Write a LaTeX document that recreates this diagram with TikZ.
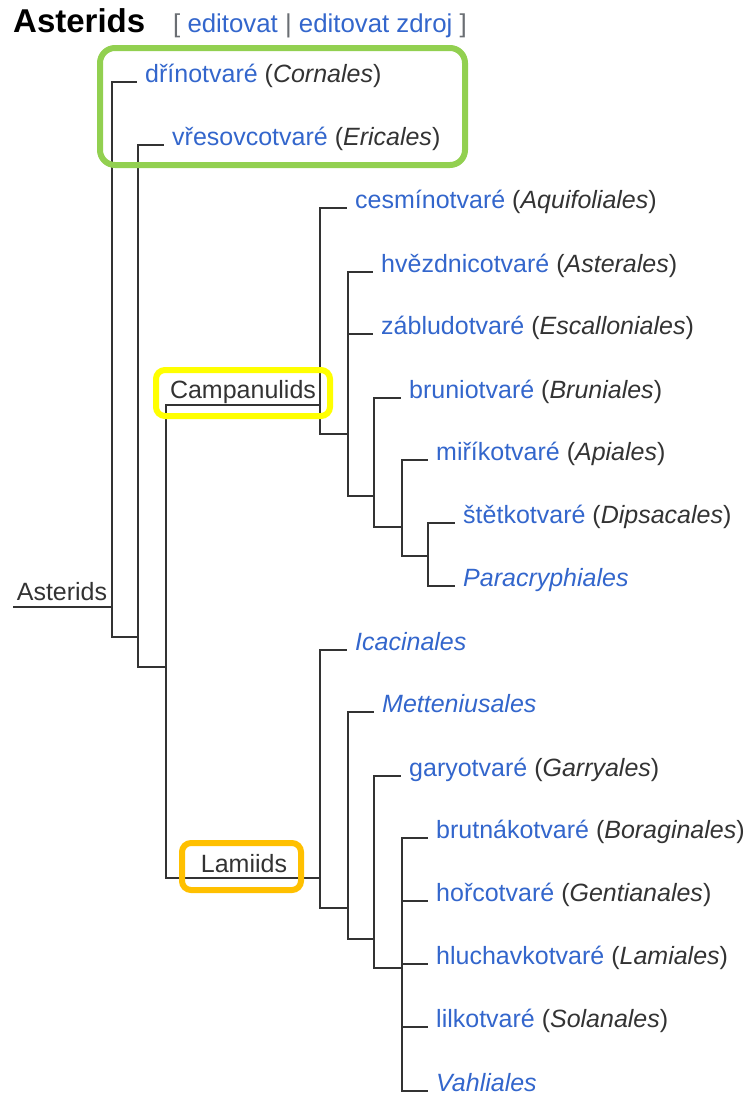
\documentclass[tikz,border=0pt]{standalone}
\usepackage{fontspec}
\setmainfont{Liberation Sans}
\usepackage{xcolor}
\definecolor{link-blue}{HTML}{3366CC}
\definecolor{text-gray}{HTML}{333333}
\definecolor{bracket-gray}{HTML}{6A6E73}
\definecolor{box-green}{HTML}{92D050}
\definecolor{box-yellow}{HTML}{FFFF00}
\definecolor{box-orange}{HTML}{FFC000}
\newcommand{\taxon}[2]{\textcolor{link-blue}{#1} \textcolor{text-gray}{(\textit{#2})}}
\newcommand{\taxonit}[1]{\textcolor{link-blue}{\textit{#1}}}
\tikzset{
    branch/.style = {draw=text-gray, line width=1.8pt},
    leaf/.style = {anchor=base west, inner sep=0pt, font=\fontsize{25}{30}\selectfont},
    clade-label/.style = {anchor=base, inner sep=0pt, text=text-gray, font=\fontsize{25}{30}\selectfont},
    page-title/.style = {anchor=base west, inner sep=0pt, text=black, font=\bfseries\fontsize{33}{40}\selectfont},
    edit-links/.style = {anchor=base west, inner sep=0pt, text=bracket-gray, font=\fontsize{25.8}{30}\selectfont},
    highlight-box/.style = {line width=6pt, rounded corners=#1},
}

\begin{document}
\begin{tikzpicture}[x=1pt, y=-1pt]
\useasboundingbox (0,0) rectangle (753,1103);
\node[page-title] (title) at (13,32) {Asterids};
\node[edit-links] (links) at (173,32) {[ \textcolor{link-blue}{editovat} | \textcolor{link-blue}{editovat zdroj} ]};

\coordinate (root) at (13,607);
\coordinate (fork-asterids) at (112,607);
\coordinate (fork-core) at (138,637);
\coordinate (fork-euasterids) at (166,667);
\coordinate (fork-campanulids) at (320,405);
\coordinate (fork-c1) at (348,434);
\coordinate (fork-c2) at (374,496);
\coordinate (fork-c3) at (402,527);
\coordinate (fork-c4) at (428,556);
\coordinate (fork-lamiids) at (320,878);
\coordinate (fork-l1) at (348,908);
\coordinate (fork-l2) at (374,939);
\coordinate (fork-l3) at (402,968);

\node[leaf] (cornales) at (145,82) {\taxon{dřínotvaré}{Cornales}};
\node[leaf] (ericales) at (172,145) {\taxon{vřesovcotvaré}{Ericales}};
\node[leaf] (aquifoliales) at (355,208) {\taxon{cesmínotvaré}{Aquifoliales}};
\node[leaf] (asterales) at (381,272) {\taxon{hvězdnicotvaré}{Asterales}};
\node[leaf] (escalloniales) at (381,334) {\taxon{zábludotvaré}{Escalloniales}};
\node[leaf] (bruniales) at (409,398) {\taxon{bruniotvaré}{Bruniales}};
\node[leaf] (apiales) at (436,460) {\taxon{miříkotvaré}{Apiales}};
\node[leaf] (dipsacales) at (463,523) {\taxon{štětkotvaré}{Dipsacales}};
\node[leaf] (paracryphiales) at (463,586) {\taxonit{Paracryphiales}};
\node[leaf] (icacinales) at (355,650) {\taxonit{Icacinales}};
\node[leaf] (metteniusales) at (382,712) {\taxonit{Metteniusales}};
\node[leaf] (garryales) at (409,776) {\taxon{garyotvaré}{Garryales}};
\node[leaf] (boraginales) at (436,838) {\taxon{brutnákotvaré}{Boraginales}};
\node[leaf] (gentianales) at (436,901) {\taxon{hořcotvaré}{Gentianales}};
\node[leaf] (lamiales) at (436,964) {\taxon{hluchavkotvaré}{Lamiales}};
\node[leaf] (solanales) at (436,1027) {\taxon{lilkotvaré}{Solanales}};
\node[leaf] (vahliales) at (436,1091) {\taxonit{Vahliales}};

\node[clade-label] (asterids) at (62,600) {Asterids};
\node[clade-label] (campanulids) at (243,398) {Campanulids};
\node[clade-label] (lamiids) at (244,872) {Lamiids};

\draw[branch] (root) -- (fork-asterids);
\draw[branch] (fork-asterids) |- ([xshift=-8pt]cornales.base west);
\draw[branch] (fork-asterids) |- (fork-core);
\draw[branch] (fork-core) |- ([xshift=-8pt]ericales.base west);
\draw[branch] (fork-core) |- (fork-euasterids);
\draw[branch] (fork-euasterids) |- (fork-campanulids);
\draw[branch] (fork-euasterids) |- (fork-lamiids);

\draw[branch] (fork-campanulids) |- ([xshift=-8pt]aquifoliales.base west);
\draw[branch] (fork-campanulids) |- (fork-c1);
\draw[branch] (fork-c1) |- ([xshift=-8pt]asterales.base west);
\draw[branch] (fork-c1) |- ([xshift=-8pt]escalloniales.base west);
\draw[branch] (fork-c1) |- (fork-c2);
\draw[branch] (fork-c2) |- ([xshift=-8pt]bruniales.base west);
\draw[branch] (fork-c2) |- (fork-c3);
\draw[branch] (fork-c3) |- ([xshift=-8pt]apiales.base west);
\draw[branch] (fork-c3) |- (fork-c4);
\draw[branch] (fork-c4) |- ([xshift=-8pt]dipsacales.base west);
\draw[branch] (fork-c4) |- ([xshift=-8pt]paracryphiales.base west);

\draw[branch] (fork-lamiids) |- ([xshift=-8pt]icacinales.base west);
\draw[branch] (fork-lamiids) |- (fork-l1);
\draw[branch] (fork-l1) |- ([xshift=-8pt]metteniusales.base west);
\draw[branch] (fork-l1) |- (fork-l2);
\draw[branch] (fork-l2) |- ([xshift=-8pt]garryales.base west);
\draw[branch] (fork-l2) |- (fork-l3);
\draw[branch] (fork-l3) |- ([xshift=-8pt]boraginales.base west);
\draw[branch] (fork-l3) |- ([xshift=-8pt]gentianales.base west);
\draw[branch] (fork-l3) |- ([xshift=-8pt]lamiales.base west);
\draw[branch] (fork-l3) |- ([xshift=-8pt]solanales.base west);
\draw[branch] (fork-l3) |- ([xshift=-8pt]vahliales.base west);

\draw[highlight-box=15pt, draw=box-green] (100,48) rectangle (465,165);
\draw[highlight-box=9pt, draw=box-yellow] (156,370) rectangle (330,416);
\draw[highlight-box=9pt, draw=box-orange] (182,843) rectangle (301,890);
\end{tikzpicture}
\end{document}
